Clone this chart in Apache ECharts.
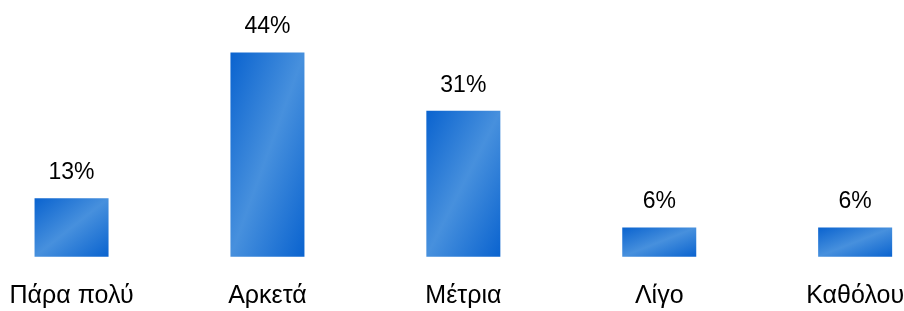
<!DOCTYPE html>
<html>
<head>
<meta charset="utf-8">
<script src="https://cdn.jsdelivr.net/npm/echarts@6/dist/echarts.min.js"></script>
<style>
html, body { margin: 0; padding: 0; background: #fff; }
#main { width: 904px; height: 311px; }
</style>
</head>
<body>
<div id="main"></div>
<script>
// κατηγορίες και ποσοστά
var categories = ['Πάρα πολύ', 'Αρκετά', 'Μέτρια', 'Λίγο', 'Καθόλου'];
var values = [12.5, 43.75, 31.25, 6.25, 6.25];

var myChart = echarts.init(document.getElementById('main'));
var barWidth = 74;

// gradient like a bounding-box diagonal: dark corners, light anti-diagonal
function barGradient(h) {
    var w = barWidth;
    var x2 = 2 * h * h / (h * h + w * w);
    var y2 = 2 * w * w / (h * h + w * w);
    return new echarts.graphic.LinearGradient(0, 0, x2, y2, [
        { offset: 0, color: '#0a63cf' },
        { offset: 0.5, color: '#4790dd' },
        { offset: 1, color: '#0a63cf' }
    ]);
}

var option = {
    animation: false,
    grid: {
        left: -26.4,
        right: -49.1,
        top: 23.2,
        bottom: 54.3,
        outerBoundsMode: 'none'
    },
    xAxis: {
        type: 'category',
        data: categories,
        axisLine: { show: false },
        axisTick: { show: false },
        axisLabel: {
            interval: 0,
            margin: 27,
            color: '#000',
            fontSize: 25,
            fontFamily: 'Liberation Sans, Arial, sans-serif'
        }
    },
    yAxis: {
        type: 'value',
        min: 0,
        max: 50,
        show: false,
        splitLine: { show: false }
    },
    series: [{
        type: 'bar',
        data: values,
        barWidth: barWidth,
        itemStyle: { color: '#3a86d8' },
        label: {
            show: true,
            position: 'top',
            distance: 14,
            color: '#000',
            fontSize: 23,
            fontFamily: 'Liberation Sans, Arial, sans-serif',
            formatter: function (p) { return Math.round(p.value) + '%'; }
        }
    }]
};

myChart.setOption(option);

// bar heights in pixels, then per-bar gradient
var base = myChart.convertToPixel({ seriesIndex: 0 }, [0, 0])[1];
var items = values.map(function (v, i) {
    var top = myChart.convertToPixel({ seriesIndex: 0 }, [i, v])[1];
    return { value: v, itemStyle: { color: barGradient(base - top) } };
});
myChart.setOption({ series: [{ data: items }] });
</script>
</body>
</html>
